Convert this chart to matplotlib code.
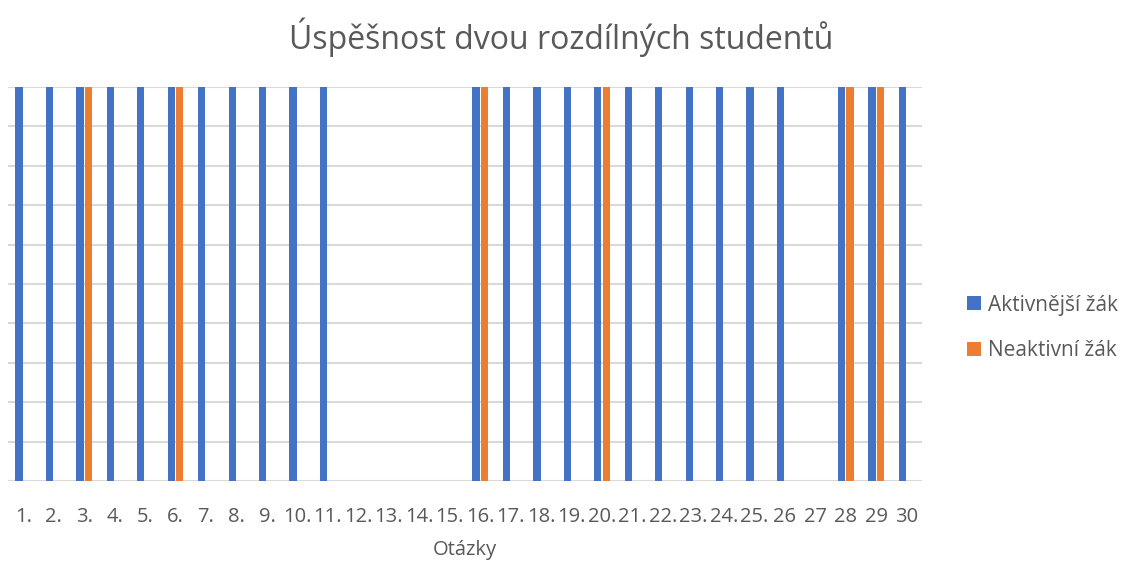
import numpy as np
import matplotlib.pyplot as plt

# data
otazky = ['1.', '2.', '3.', '4.', '5.', '6.', '7.', '8.', '9.', '10.',
          '11.', '12.', '13.', '14.', '15.', '16.', '17.', '18.', '19.', '20.',
          '21.', '22.', '23.', '24.', '25.', '26', '27', '28', '29', '30']
aktivnejsi = [1, 1, 1, 1, 1, 1, 1, 1, 1, 1,
              1, 0, 0, 0, 0, 1, 1, 1, 1, 1,
              1, 1, 1, 1, 1, 1, 0, 1, 1, 1]
neaktivni = [0, 0, 1, 0, 0, 1, 0, 0, 0, 0,
             0, 0, 0, 0, 0, 1, 0, 0, 0, 1,
             0, 0, 0, 0, 0, 0, 0, 1, 1, 0]

plt.rcParams['font.family'] = ['Open Sans', 'DejaVu Sans']
text_color = '#595959'

fig = plt.figure(figsize=(11.23, 5.64), dpi=100)
ax = fig.add_axes([0.0071, 0.1472, 0.8139, 0.6985])

x = np.arange(len(otazky))
w = 0.24
ax.bar(x - 0.14, aktivnejsi, w, color='#4472C4', label='Aktivnější žák', zorder=3)
ax.bar(x + 0.14, neaktivni, w, color='#ED7D31', label='Neaktivní žák', zorder=3)

ax.set_xlim(-0.5, len(otazky) - 0.5)
ax.set_ylim(0, 1)
ax.set_yticks(np.arange(0, 1.01, 0.1))
ax.yaxis.grid(True, color='#d9d9d9', linewidth=1.5, zorder=0)
ax.tick_params(axis='y', left=False, labelleft=False)
ax.set_xticks(x)
ax.set_xticklabels(otazky, fontsize=14.5, color=text_color)
ax.tick_params(axis='x', length=0, pad=18.5)
for s in ax.spines.values():
    s.set_visible(False)

ax.set_xlabel('Otázky', fontsize=14.5, color=text_color)
ax.xaxis.set_label_coords(0.5, -0.15)
fig.text(0.5, 1 - 37 / 564, 'Úspěšnost dvou rozdílných studentů', fontsize=23,
         color=text_color, ha='center', va='center')

ax.legend(loc='center left', bbox_to_anchor=(957 / 1123, 1 - 328 / 564),
          bbox_transform=fig.transFigure, frameon=False, borderpad=0,
          fontsize=15, labelcolor=text_color, handlelength=0.67,
          handleheight=0.67, handletextpad=0.3, labelspacing=1.2)

fig.savefig('out.png', dpi=100)
